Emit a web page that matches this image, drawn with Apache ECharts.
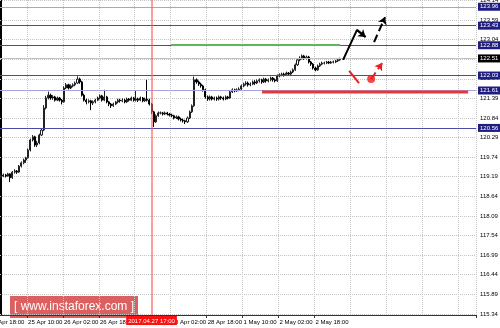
<!DOCTYPE html>
<html><head><meta charset="utf-8">
<script src="https://cdn.jsdelivr.net/npm/echarts@6/dist/echarts.min.js"></script>
<style>html,body{margin:0;padding:0;background:#fff}#c{width:500px;height:328px}</style>
</head><body><div id="c"></div><script>
// ---------- data ----------
const N_SLOTS = 212;               // hourly slots across the visible window (incl. empty future)
// [open, close, low, high]
const candles = [
[119.19,119.21,119.14,119.26],[119.21,119.24,119.18,119.28],[119.24,119.21,119.17,119.27],[119.21,119.27,119.19,119.30],
[119.27,119.16,119.04,119.29],[119.16,119.32,119.13,119.35],[119.32,119.35,119.28,119.40],[119.35,119.32,119.27,119.38],
[119.32,119.49,119.30,119.52],[119.49,119.58,119.45,119.62],[119.58,119.66,119.54,119.70],[119.66,119.72,119.58,119.75],
[119.72,119.94,119.70,119.98],[119.94,120.22,119.90,120.26],[120.22,120.31,120.18,120.36],[120.31,120.08,120.03,120.34],
[120.08,120.14,120.02,120.20],[120.14,120.36,120.10,120.40],[120.36,120.50,120.33,120.55],[120.50,121.12,120.47,121.20],
[121.12,121.40,121.08,121.46],[121.40,121.48,121.36,121.58],[121.48,121.40,121.35,121.52],[121.40,121.43,121.35,121.48],
[121.43,121.34,121.30,121.46],[121.34,121.40,121.31,121.44],[121.40,121.34,121.30,121.43],[121.34,121.29,121.22,121.37],
[121.29,121.68,121.27,121.73],[121.68,121.77,121.65,121.82],[121.77,121.68,121.64,121.80],[121.68,121.74,121.65,121.78],
[121.74,121.77,121.70,121.81],[121.77,121.82,121.73,121.86],[121.82,121.93,121.79,122.01],[121.93,121.85,121.80,121.97],
[121.85,121.48,121.44,121.88],[121.48,121.34,121.30,121.52],[121.34,121.29,121.22,121.38],[121.29,121.32,121.25,121.36],
[121.32,121.26,121.06,121.35],[121.26,121.29,121.20,121.33],[121.29,121.34,121.25,121.38],[121.34,121.40,121.31,121.44],
[121.40,121.46,121.36,121.50],[121.46,121.34,121.30,121.49],[121.34,121.43,121.31,121.63],[121.43,121.29,121.25,121.46],
[121.29,121.23,121.17,121.32],[121.23,121.18,121.12,121.26],[121.18,121.23,121.15,121.27],[121.23,121.29,121.20,121.32],
[121.29,121.34,121.25,121.38],[121.34,121.32,121.27,121.38],[121.32,121.34,121.28,121.39],[121.34,121.29,121.25,121.38],
[121.29,121.37,121.26,121.41],[121.37,121.34,121.30,121.40],[121.34,121.40,121.31,121.44],[121.40,121.34,121.30,121.43],
[121.34,121.37,121.30,121.60],[121.37,121.34,121.29,121.41],[121.34,121.40,121.31,121.44],[121.40,121.32,121.28,121.43],
[121.32,121.37,121.29,121.41],[121.37,121.34,121.30,121.91],[121.34,121.23,121.19,121.38],[121.23,121.01,120.95,121.26],
[121.01,120.73,120.59,121.04],[120.73,120.90,120.70,120.94],[120.90,120.98,120.87,121.02],[120.98,120.98,120.94,121.02],
[120.98,120.95,120.91,121.01],[120.95,120.98,120.92,121.02],[120.98,120.95,120.91,121.01],[120.95,120.92,120.88,120.98],
[120.92,120.90,120.86,120.96],[120.90,120.84,120.80,120.93],[120.84,120.87,120.81,120.91],[120.87,120.81,120.77,120.90],
[120.81,120.78,120.74,120.85],[120.78,120.76,120.71,120.82],[120.76,120.73,120.67,120.79],[120.73,120.84,120.70,120.88],
[120.84,121.01,120.81,121.05],[121.01,121.18,120.98,121.22],[121.18,121.91,121.15,122.00],[121.91,121.85,121.80,121.95],
[121.85,121.79,121.74,121.89],[121.79,121.74,121.69,121.83],[121.74,121.63,121.58,121.77],[121.63,121.43,121.38,121.66],
[121.43,121.37,121.32,121.47],[121.37,121.43,121.33,121.47],[121.43,121.37,121.33,121.46],[121.37,121.40,121.33,121.44],
[121.40,121.37,121.32,121.44],[121.37,121.43,121.33,121.47],[121.43,121.40,121.35,121.46],[121.40,121.37,121.33,121.44],
[121.37,121.43,121.34,121.47],[121.43,121.40,121.36,121.46],[121.40,121.57,121.38,121.61],[121.57,121.63,121.54,121.67],
[121.63,121.60,121.56,121.66],[121.60,121.63,121.57,121.67],[121.63,121.65,121.59,121.70],[121.65,121.74,121.62,121.78],
[121.74,121.79,121.70,121.83],[121.79,121.82,121.75,121.87],[121.82,121.77,121.72,121.86],[121.77,121.79,121.73,121.84],
[121.79,121.85,121.76,121.89],[121.85,121.82,121.77,121.90],[121.82,121.88,121.79,121.92],[121.88,121.91,121.83,121.95],
[121.91,121.85,121.80,121.94],[121.85,121.93,121.82,121.97],[121.93,121.88,121.83,121.96],[121.88,121.91,121.84,121.95],
[121.91,121.96,121.87,122.00],[121.96,121.91,121.86,121.99],[121.91,121.88,121.84,121.95],[121.88,122.02,121.85,122.06],
[122.02,122.05,121.98,122.09],[122.05,122.07,122.01,122.11],[122.07,122.05,122.00,122.11],[122.05,122.10,122.02,122.14],
[122.10,122.07,122.03,122.13],[122.07,122.13,122.04,122.17],[122.13,122.19,122.10,122.23],[122.19,122.33,122.16,122.37],
[122.33,122.47,122.30,122.51],[122.47,122.52,122.43,122.57],[122.52,122.58,122.48,122.62],[122.58,122.52,122.47,122.61],
[122.52,122.55,122.48,122.59],[122.55,122.41,122.37,122.58],[122.41,122.35,122.30,122.44],[122.35,122.24,122.20,122.38],
[122.24,122.19,122.15,122.28],[122.19,122.30,122.16,122.34],[122.30,122.35,122.27,122.39],[122.35,122.38,122.32,122.42],
[122.38,122.38,122.34,122.42],[122.38,122.41,122.35,122.44],[122.41,122.38,122.35,122.44],[122.38,122.41,122.36,122.44],
[122.41,122.41,122.37,122.45],[122.41,122.44,122.38,122.47],[122.44,122.47,122.41,122.50],[122.47,122.51,122.44,122.53]
];
const tickLabels = ['25 Apr 10:00','26 Apr 02:00','26 Apr 18:00','27 Apr 10:00','28 Apr 02:00','28 Apr 18:00','1 May 10:00','2 May 02:00','2 May 18:00'];
const TICK_START = 12, TICK_STEP = 16;
const partialLabel = '24 Apr 18:00';
const priceTicks = [115.34,115.89,116.44,116.99,117.54,118.09,118.64,119.19,119.74,120.29,120.84,121.39,121.94,122.49,123.04,123.59,124.14];
const levels = [123.96, 123.43, 122.88, 122.03, 121.61, 120.56];
const levelLight = [true, false, false, false, true, false];
const lastPrice = 122.51;
const cursorIndex = 67;
const cursorLabel = '2017.04.27 17:00';
const greenLine = [[75.7,122.89],[151,122.89]];
const redLine = [[116.2,121.57],[208,121.57]];
const upPath = [[152.3,122.47],[158.5,123.31],[162.3,123.11]];
const upDashed = [[166.1,122.97],[171.0,123.67]];
const downStroke = [[155.0,122.16],[159.4,121.82]];
const altDot = [164.8,121.93];
const altDashed = [[164.8,121.93],[169.7,122.38]];
const watermark = '[ www.instaforex.com ]';

// ---------- chart ----------
const FONT = '"Liberation Sans", Arial, sans-serif';
const FS = 6;
const categories = Array.from({length: N_SLOTS}, (_, i) => String(i));
const isTick = i => i >= TICK_START && (i - TICK_START) % TICK_STEP === 0;
const labelFor = i => isTick(i) ? (tickLabels[(i - TICK_START) / TICK_STEP] || '') : '';

const chart = echarts.init(document.getElementById('c'), null, {renderer: 'canvas'});

const gridLines = priceTicks.map(v => ({
  yAxis: v,
  lineStyle: {type: 'dotted', color: '#c4c4c4', width: 1},
  label: {show: true, position: 'end', distance: 4, formatter: v.toFixed(2), color: '#000', fontSize: FS, fontFamily: FONT}
}));
const levelLines = levels.map((v, k) => ({
  yAxis: v,
  lineStyle: {type: 'solid', color: levelLight[k] ? '#a4a4dc' : '#4a4aa8', width: 1},
  label: {show: true, position: 'end', distance: 2, formatter: v.toFixed(2), color: '#fff', fontSize: FS, fontFamily: FONT,
          backgroundColor: '#1e1e80', padding: [1, 2, 1, 2]}
}));
levelLines.push({
  yAxis: lastPrice,
  lineStyle: {type: 'solid', color: '#c0c0c0', width: 1},
  label: {show: true, position: 'end', distance: 2, formatter: lastPrice.toFixed(2), color: '#fff', fontSize: FS, fontFamily: FONT,
          backgroundColor: '#000', padding: [1, 2, 1, 2]}
});

const seg = (pts, color, type, arrow) => [
  {coord: pts[0], symbol: 'none'},
  {coord: pts[1], symbol: arrow ? 'arrow' : 'none', symbolSize: arrow ? 7 : 0, lineStyle: {color, type, width: 2}}
];

chart.setOption({
  animation: false,
  backgroundColor: '#fff',
  grid: {left: 0, right: 24, top: 0, bottom: 13, containLabel: false},
  xAxis: [{
    type: 'category', data: categories, boundaryGap: true,
    axisLine: {lineStyle: {color: '#333', width: 1}},
    axisTick: {show: true, interval: i => isTick(i) && labelFor(i) !== '', length: 3, lineStyle: {color: '#333'}},
    axisLabel: {interval: i => isTick(i) && labelFor(i) !== '', formatter: (v) => labelFor(+v), align: 'left',
                showMinLabel: true, showMaxLabel: true, hideOverlap: false,
                fontSize: FS, color: '#000', margin: 4, fontFamily: FONT},
    splitLine: {show: true, interval: i => isTick(i), lineStyle: {type: 'dotted', color: '#c4c4c4'}}
  }, {
    type: 'value', min: -0.5, max: N_SLOTS - 0.5, show: false
  }],
  yAxis: [{
    type: 'value', position: 'right', min: 115.31, max: 124.15, scale: true,
    axisLine: {show: true, lineStyle: {color: '#000', width: 2}},
    axisTick: {show: false}, axisLabel: {show: false}, splitLine: {show: false}
  }],
  series: [
    {type: 'line', name: 'grid', xAxisIndex: 0, data: [], z: 1, silent: true,
     markLine: {silent: true, symbol: 'none', data: gridLines, z: 1}},
    {type: 'candlestick', name: 'price', xAxisIndex: 0, data: candles, barWidth: 1.6, z: 3,
     itemStyle: {color: '#ffffff', color0: '#000000', borderColor: '#222222', borderColor0: '#000000', borderWidth: 1}},
    {type: 'line', name: 'levels', xAxisIndex: 0, data: [], z: 4, silent: true,
     markLine: {silent: true, symbol: 'none', data: levelLines, z: 4}},
    {type: 'line', name: 'cursor', xAxisIndex: 0, data: [], z: 5, silent: true,
     markLine: {silent: true, symbol: 'none', data: [{
       xAxis: String(cursorIndex),
       lineStyle: {type: 'solid', color: 'rgba(255,90,90,0.6)', width: 2},
       label: {show: true, position: 'start', distance: 1, formatter: cursorLabel, color: '#fff', fontSize: FS, fontFamily: FONT,
               backgroundColor: '#ff1010', padding: [2, 2, 1, 2]}
     }]}},
    {type: 'line', name: 'resistance', xAxisIndex: 1, data: greenLine, symbol: 'none', z: 6,
     lineStyle: {color: '#5cb85c', width: 2}},
    {type: 'line', name: 'support', xAxisIndex: 1, data: redLine, symbol: 'none', z: 6,
     lineStyle: {color: '#e8363d', width: 3}},
    {type: 'line', name: 'main', xAxisIndex: 1, data: upPath, symbol: 'none', z: 7,
     lineStyle: {color: '#000', width: 2},
     markLine: {silent: true, z: 7, label: {show: false}, data: [
       seg([upPath[1], upPath[2]], '#000', 'solid', true),
       seg(upDashed, '#000', 'dashed', true),
       seg(altDashed, '#ee1c1c', 'dashed', true)
     ]}},
    {type: 'line', name: 'alt', xAxisIndex: 1, data: downStroke, symbol: 'none', z: 7,
     lineStyle: {color: '#ee1c1c', width: 2}},
    {type: 'scatter', name: 'altDot', xAxisIndex: 1, data: [altDot], symbolSize: 8, z: 7,
     itemStyle: {color: '#ee1c1c'}}
  ],
  graphic: [
    {type: 'text', x: -10, y: 319, silent: true,
     style: {text: partialLabel, fill: '#000', font: FS + 'px ' + FONT}},
    {type: 'group', x: 10, y: 296, silent: true, z: 100, children: [
      {type: 'rect', shape: {x: 0, y: 0, width: 128, height: 22}, style: {fill: 'rgba(205,35,35,0.72)'}},
      {type: 'text', x: 64, y: 11, style: {text: watermark, fill: '#fff', align: 'center', verticalAlign: 'middle',
        font: '12px "Liberation Sans", Arial, sans-serif'}}
    ]}
  ]
});
</script></body></html>
